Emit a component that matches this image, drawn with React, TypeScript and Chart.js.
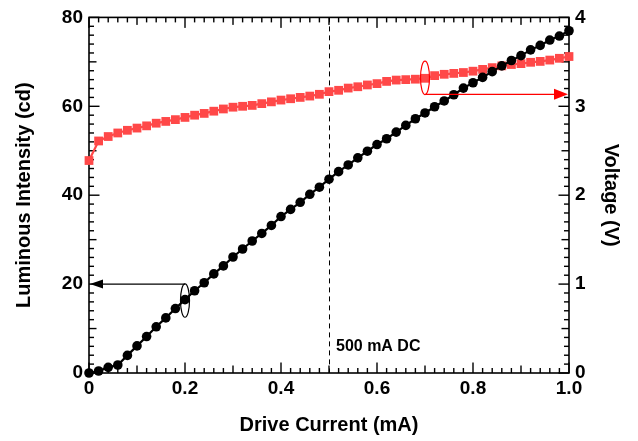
import React, { useEffect, useRef } from "react";
import { Chart, registerables } from "chart.js";

Chart.register(...registerables);

// ---- data ----
const DRIVE_CURRENT = [
  0, 0.02, 0.04, 0.06, 0.08, 0.1, 0.12, 0.14, 0.16, 0.18,
  0.2, 0.22, 0.24, 0.26, 0.28, 0.3, 0.32, 0.34, 0.36, 0.38,
  0.4, 0.42, 0.44, 0.46, 0.48, 0.5, 0.52, 0.54, 0.56, 0.58,
  0.6, 0.62, 0.64, 0.66, 0.68, 0.7, 0.72, 0.74, 0.76, 0.78,
  0.8, 0.82, 0.84, 0.86, 0.88, 0.9, 0.92, 0.94, 0.96, 0.98, 1.0,
];

const LUMINOUS_INTENSITY = [
  0, 0.45, 1.27, 1.8, 3.96, 6.1, 8.2, 10.4, 12.4, 14.5,
  16.5, 18.5, 20.3, 22.3, 24.1, 26.1, 27.9, 29.7, 31.4, 33.2,
  35.2, 36.8, 38.4, 40.2, 41.8, 43.6, 45.3, 46.8, 48.4, 49.9,
  51.4, 52.7, 54.2, 55.7, 57.2, 58.5, 59.9, 61.2, 62.6, 64.1,
  65.3, 66.5, 67.8, 69.1, 70.3, 71.4, 72.7, 73.7, 74.9, 75.8, 77.0,
];

const VOLTAGE = [
  2.39, 2.61, 2.66, 2.7, 2.73, 2.755, 2.78, 2.81, 2.83, 2.85,
  2.875, 2.9, 2.92, 2.945, 2.97, 2.99, 3.0, 3.01, 3.03, 3.05,
  3.07, 3.085, 3.1, 3.115, 3.135, 3.165, 3.18, 3.205, 3.22, 3.24,
  3.255, 3.28, 3.295, 3.3, 3.305, 3.315, 3.345, 3.36, 3.37, 3.38,
  3.395, 3.415, 3.435, 3.455, 3.47, 3.48, 3.495, 3.505, 3.52, 3.54, 3.56,
];

const X_RANGE = [0, 1];
const Y_LEFT_RANGE = [0, 80];
const Y_RIGHT_RANGE = [0, 4];
const X_STEP = 0.2;
const Y_LEFT_STEP = 20;
const Y_RIGHT_STEP = 1;
const MINOR_DIVISIONS = 10;

const X_TITLE = "Drive Current (mA)";
const Y_LEFT_TITLE = "Luminous Intensity (cd)";
const Y_RIGHT_TITLE = "Voltage (V)";

// annotations (data units)
const DC_MARK_X = 0.5;
const DC_MARK_LABEL = "500 mA DC";
const LEFT_ELLIPSE = { x: 0.2, y: 16.3, arrowY: 20 }; // luminous axis
const RIGHT_ELLIPSE = { x: 0.7, y: 3.32, arrowY: 3.135 }; // voltage axis

const FONT = "'Liberation Sans', Arial, Helvetica, sans-serif";
const RED = "#ff4848";

function tickLen(i: number) {
  return i % MINOR_DIVISIONS === 0 ? 10.5 : i % (MINOR_DIVISIONS / 2) === 0 ? 7.5 : 5;
}

const ticksPlugin = {
  id: "inwardTicks",
  beforeDatasetsDraw(chart: any) {
    const ctx: CanvasRenderingContext2D = chart.ctx;
    const a = chart.chartArea;
    const xs = chart.scales.x, yl = chart.scales.y, yr = chart.scales.y1;
    ctx.save();
    // dashed marker line
    ctx.strokeStyle = "#000";
    ctx.lineWidth = 1;
    ctx.setLineDash([5, 4]);
    const dx = Math.round(xs.getPixelForValue(DC_MARK_X)) + 0.5;
    ctx.beginPath();
    ctx.moveTo(dx, a.top);
    ctx.lineTo(dx, a.bottom);
    ctx.stroke();
    ctx.setLineDash([]);

    ctx.fillStyle = "#000000";
    const W = 1.4;
    const nx = Math.round(((X_RANGE[1] - X_RANGE[0]) / X_STEP) * MINOR_DIVISIONS);
    for (let i = 0; i <= nx; i++) {
      const px = xs.getPixelForValue(X_RANGE[0] + (i * X_STEP) / MINOR_DIVISIONS);
      const len = tickLen(i);
      ctx.fillRect(px - W / 2, a.bottom - len, W, len);
      ctx.fillRect(px - W / 2, a.top, W, len);
    }
    const nl = Math.round(((Y_LEFT_RANGE[1] - Y_LEFT_RANGE[0]) / Y_LEFT_STEP) * MINOR_DIVISIONS);
    for (let i = 0; i <= nl; i++) {
      const py = yl.getPixelForValue(Y_LEFT_RANGE[0] + (i * Y_LEFT_STEP) / MINOR_DIVISIONS);
      ctx.fillRect(a.left, py - W / 2, tickLen(i), W);
    }
    const nr = Math.round(((Y_RIGHT_RANGE[1] - Y_RIGHT_RANGE[0]) / Y_RIGHT_STEP) * MINOR_DIVISIONS);
    for (let i = 0; i <= nr; i++) {
      const py = yr.getPixelForValue(Y_RIGHT_RANGE[0] + (i * Y_RIGHT_STEP) / MINOR_DIVISIONS);
      const len = tickLen(i);
      ctx.fillRect(a.right - len, py - W / 2, len, W);
    }
    ctx.strokeStyle = "#000000";
    ctx.lineWidth = 1.6;
    ctx.strokeRect(a.left, a.top, a.right - a.left, a.bottom - a.top);
    ctx.restore();
  },
};

const annotationPlugin = {
  id: "annotations",
  afterDatasetsDraw(chart: any) {
    const { ctx, chartArea: a, scales } = chart;
    const xs = scales.x, yl = scales.y, yr = scales.y1;
    ctx.save();
    const RY = 16.7, RX = 4.5;

    // left (black) ellipse + arrow
    const lx = xs.getPixelForValue(LEFT_ELLIPSE.x);
    const ly = yl.getPixelForValue(LEFT_ELLIPSE.y);
    const lay = yl.getPixelForValue(LEFT_ELLIPSE.arrowY);
    ctx.strokeStyle = "#000";
    ctx.fillStyle = "#000";
    ctx.lineWidth = 1.2;
    ctx.beginPath();
    ctx.ellipse(lx, ly, RX, RY, 0, 0, Math.PI * 2);
    ctx.stroke();
    ctx.beginPath();
    ctx.moveTo(lx, lay);
    ctx.lineTo(a.left + 12, lay);
    ctx.stroke();
    ctx.beginPath();
    ctx.moveTo(a.left + 1, lay);
    ctx.lineTo(a.left + 14, lay - 4.5);
    ctx.lineTo(a.left + 14, lay + 4.5);
    ctx.closePath();
    ctx.fill();

    // right (red) ellipse + arrow
    const rx = xs.getPixelForValue(RIGHT_ELLIPSE.x);
    const ry = yr.getPixelForValue(RIGHT_ELLIPSE.y);
    const ray = yr.getPixelForValue(RIGHT_ELLIPSE.arrowY);
    ctx.strokeStyle = "#ff0000";
    ctx.fillStyle = "#ff0000";
    ctx.lineWidth = 1.2;
    ctx.beginPath();
    ctx.ellipse(rx, ry, RX, RY, 0, 0, Math.PI * 2);
    ctx.stroke();
    ctx.beginPath();
    ctx.moveTo(rx, ray);
    ctx.lineTo(a.right - 12, ray);
    ctx.stroke();
    ctx.beginPath();
    ctx.moveTo(a.right - 1, ray);
    ctx.lineTo(a.right - 15, ray - 5.5);
    ctx.lineTo(a.right - 15, ray + 5.5);
    ctx.closePath();
    ctx.fill();

    // label
    ctx.fillStyle = "#000";
    ctx.font = `bold 16px ${FONT}`;
    ctx.textAlign = "left";
    ctx.textBaseline = "alphabetic";
    ctx.fillText(DC_MARK_LABEL, xs.getPixelForValue(DC_MARK_X) + 7, a.bottom - 22);
    ctx.restore();
  },
};

export default function App() {
  const ref = useRef<HTMLCanvasElement | null>(null);

  useEffect(() => {
    document.body.style.margin = "0";
    if (!ref.current) return;
    const tickFont = { family: FONT, size: 19, weight: "bold" as const };
    const titleFont = { family: FONT, size: 20, weight: "bold" as const };
    const chart = new Chart(ref.current, {
      type: "line",
      data: {
        datasets: [
          {
            label: "Luminous Intensity",
            data: DRIVE_CURRENT.map((x, i) => ({ x, y: LUMINOUS_INTENSITY[i] })),
            yAxisID: "y",
            borderColor: "#000",
            backgroundColor: "#000",
            borderWidth: 2.2,
            pointStyle: "circle",
            pointRadius: 4.8,
            pointBorderWidth: 0,
            tension: 0,
            clip: false as any,
          },
          {
            label: "Voltage",
            data: DRIVE_CURRENT.map((x, i) => ({ x, y: VOLTAGE[i] })),
            yAxisID: "y1",
            borderColor: RED,
            backgroundColor: RED,
            borderWidth: 2.2,
            pointStyle: "rect",
            pointRadius: 6.2,
            pointBorderWidth: 0,
            tension: 0,
            clip: false as any,
          },
        ],
      },
      options: {
        animation: false,
        responsive: false,
        devicePixelRatio: 1,
        layout: { padding: { top: 13, left: 0, right: 0, bottom: 0 } },
        plugins: { legend: { display: false }, tooltip: { enabled: false } },
        scales: {
          x: {
            type: "linear",
            position: "bottom",
            min: X_RANGE[0],
            max: X_RANGE[1],
            grid: { display: false, drawTicks: false },
            border: { display: false },
            ticks: {
              stepSize: X_STEP,
              padding: 4,
              color: "#000",
              font: tickFont,
              maxRotation: 0,
              autoSkip: false,
              callback: (v: any) => (Number(v) === 0 ? "0" : Number(v).toFixed(1)),
            },
            title: {
              display: true,
              text: X_TITLE,
              color: "#000",
              font: titleFont,
              padding: { top: 0, bottom: 3.5 },
            },
            afterFit: (s: any) => {
              s.height = 68;
            },
          },
          y: {
            type: "linear",
            position: "left",
            min: Y_LEFT_RANGE[0],
            max: Y_LEFT_RANGE[1],
            grid: { display: false, drawTicks: false },
            border: { display: false },
            ticks: { stepSize: Y_LEFT_STEP, padding: 6, color: "#000", font: tickFont },
            title: {
              display: true,
              text: Y_LEFT_TITLE,
              color: "#000",
              font: titleFont,
              padding: { top: 12.5, bottom: 0 },
            },
            afterFit: (s: any) => {
              s.width = 89;
            },
          },
          y1: {
            type: "linear",
            position: "right",
            min: Y_RIGHT_RANGE[0],
            max: Y_RIGHT_RANGE[1],
            grid: { display: false, drawTicks: false },
            border: { display: false },
            ticks: { stepSize: Y_RIGHT_STEP, padding: 6, color: "#000", font: tickFont },
            title: {
              display: true,
              text: Y_RIGHT_TITLE,
              color: "#000",
              font: titleFont,
              padding: { top: 15, bottom: 0 },
            },
            afterFit: (s: any) => {
              s.width = 69;
            },
          },
        },
      },
      plugins: [ticksPlugin, annotationPlugin],
    });
    return () => chart.destroy();
  }, []);

  return (
    <div style={{ width: 638, height: 441, background: "#fff" }}>
      <canvas ref={ref} width={638} height={441} style={{ display: "block" }} />
    </div>
  );
}
